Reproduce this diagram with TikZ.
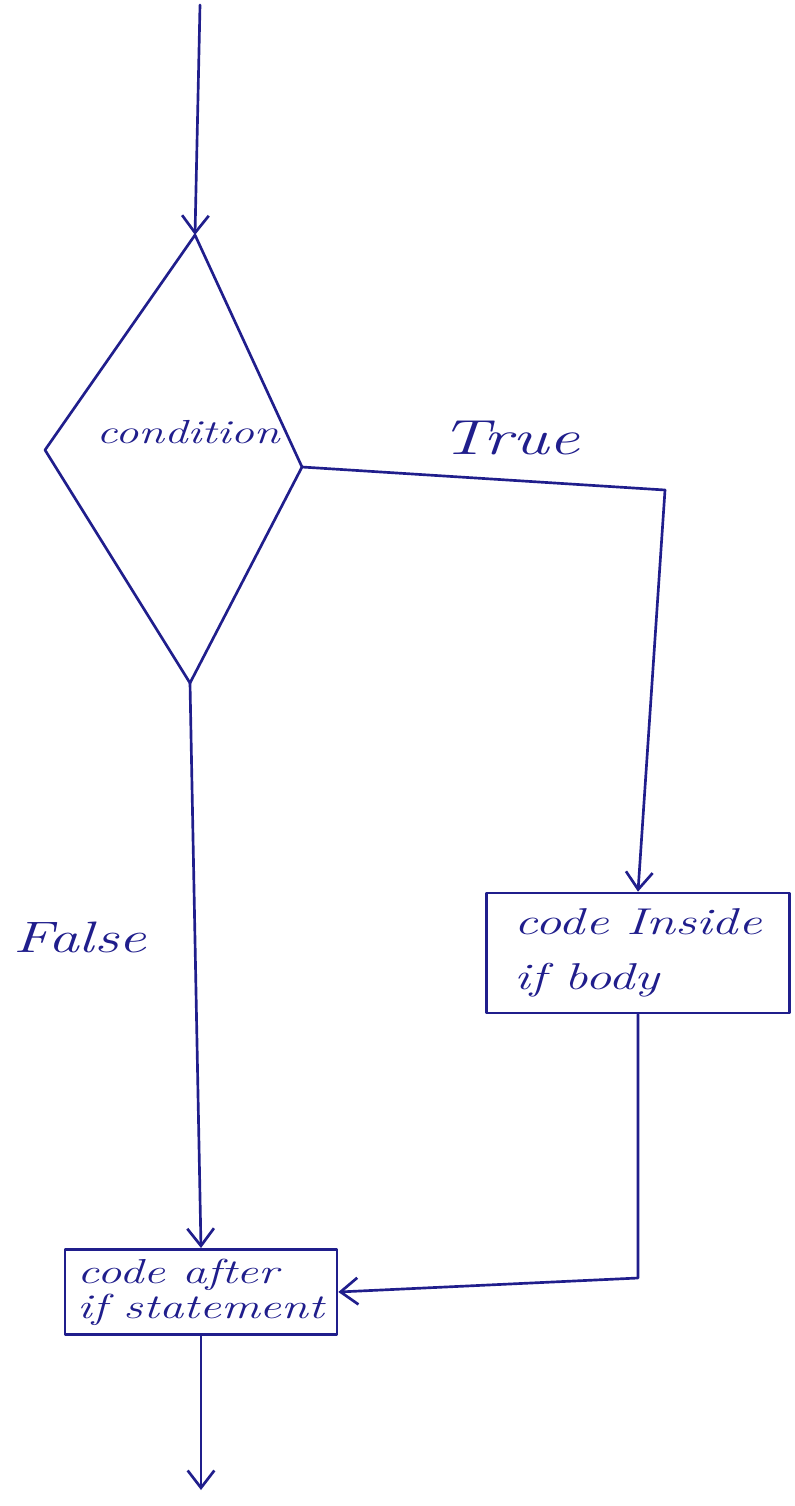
\documentclass[tikz,border=0pt]{standalone}
\usepackage{fontspec}
\usetikzlibrary{arrows.meta}
\newfontfamily\handfont{Latin Modern Roman}[FakeStretch=1.4]
\definecolor{inkblue}{RGB}{32,30,140}
\begin{document}
\begin{tikzpicture}[x=0.75pt,y=-0.75pt,
  ink/.style={draw=inkblue, line width=2pt, line cap=round, line join=round},
  arr/.style={ink, -{Straight Barb[length=13pt,width=20pt,line width=2pt]}},
  lbl/.style={text=inkblue, inner sep=0pt},
  procbox/.style={ink, align=left, text=inkblue, inner sep=0pt}]
\useasboundingbox[fill=white] (0,0) rectangle (795,1506);
% diamond vertices
\coordinate (start) at (200,5);
\coordinate (dT) at (195,235);
\coordinate (dL) at (45,450);
\coordinate (dR) at (302,467);
\coordinate (dB) at (190,683);
\draw[ink] (dT) -- (dR) -- (dB) -- (dL) -- cycle;
\node[lbl, font=\handfont\itshape\fontsize{25}{29}\selectfont] (cond) at (188,432) {condition};
\draw[arr] (start) -- (dT);
% boxes
\node[procbox, minimum width=227pt, minimum height=90pt,
  font=\handfont\itshape\fontsize{28}{41}\selectfont] (body) at (638,953) {code Inside\\if body};
\node[procbox, minimum width=204pt, minimum height=64pt,
  font=\handfont\itshape\fontsize{26}{26}\selectfont] (after) at (201,1292) {code after\\if statement};
% true branch
\coordinate (tc) at (665,490);
\coordinate (bc) at (638,1278);
\draw[ink] (dR) -- (tc);
\draw[arr] (tc) -- (body.north);
\draw[arr] (body.south) -- (bc) -- (after.east);
\node[lbl, font=\handfont\itshape\fontsize{37}{40}\selectfont] (truelbl) at (510,438) {True};
% false branch
\draw[arr] (dB) -- (after.north);
\node[lbl, font=\handfont\itshape\fontsize{33}{36}\selectfont] (falselbl) at (80,937) {False};
% exit
\coordinate (end) at (201,1490);
\draw[arr] (after.south) -- (end);
\end{tikzpicture}
\end{document}
